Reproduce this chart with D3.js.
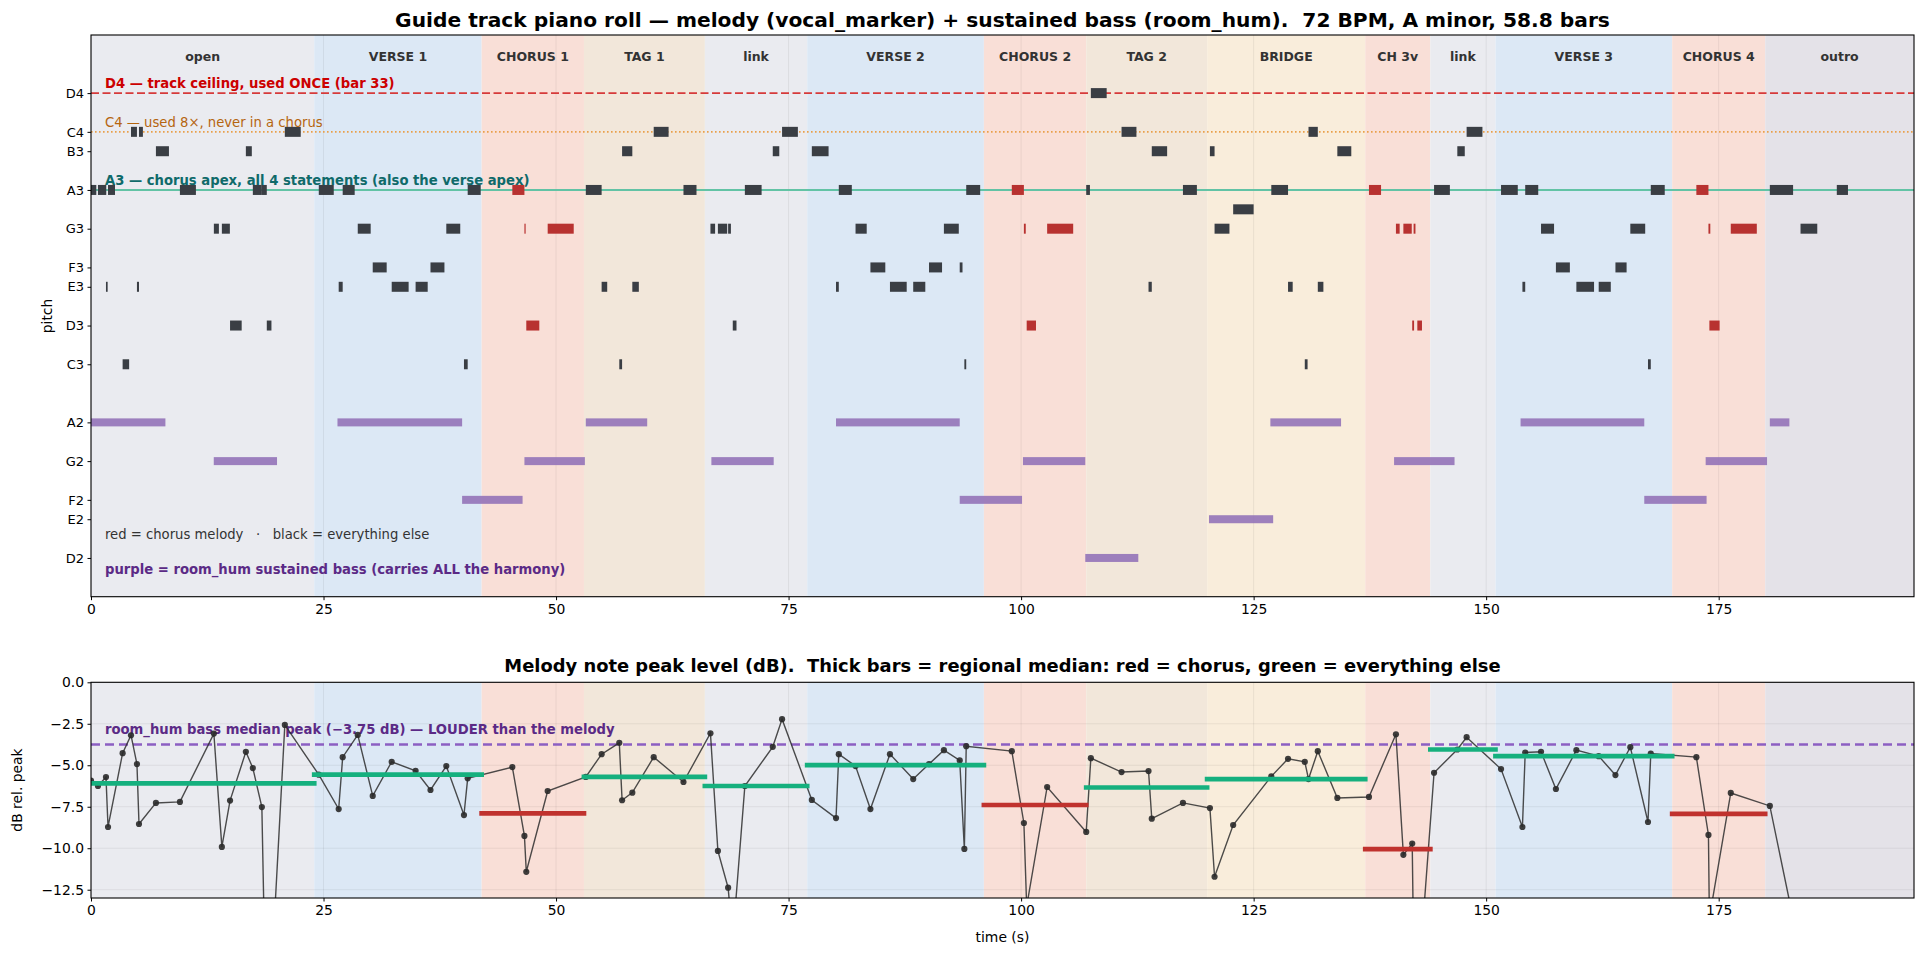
<!DOCTYPE html>
<html><head><meta charset="utf-8">
<script src="https://cdn.jsdelivr.net/npm/d3@7"></script>
<style>html,body{margin:0;padding:0;background:#fff;}svg{display:block;font-family:"DejaVu Sans",sans-serif;}svg text{white-space:pre;}</style>
</head><body>
<script>
// ---------------- data ----------------
const sectionNames  = ["open","VERSE 1","CHORUS 1","TAG 1","link","VERSE 2","CHORUS 2","TAG 2","BRIDGE","CH 3v","link","VERSE 3","CHORUS 4","outro"];
const sectionBounds = [0,24,42,53,66,77,96,107,120,137,144,151,170,180,196];
const sectionKinds  = ["open","verse","chorus","tag","link","verse","chorus","tag","bridge","chorus","link","verse","chorus","outro"];

const pitchTickNames = ["D4","C4","B3","A3","G3","F3","E3","D3","C3","A2","G2","F2","E2","D2"];
const pitchTickMidi  = [62,60,59,57,55,53,52,50,48,45,43,41,40,38];
const extraPitchNames = ["G#3"];
const extraPitchMidi  = [56];

const noteStart = [0.0,0.75,1.61,1.83,3.4,4.3,4.94,5.16,6.98,9.56,13.21,14.07,14.95,16.65,17.4,18.37,18.9,20.84,
  24.49,26.63,27.06,28.68,30.29,32.33,34.9,36.5,38.2,40.1,40.5,45.3,46.6,46.8,49.1,
  53.2,54.9,56.8,57.1,58.2,60.5,63.7,66.6,67.4,68.5,69.0,70.3,73.3,74.3,
  77.5,80.1,80.4,82.2,83.8,85.9,88.4,90.1,91.7,93.4,93.9,94.1,99.0,100.3,100.6,102.8,
  107.0,107.5,110.8,113.7,114.05,117.4,120.3,120.8,122.8,126.9,128.7,130.5,130.9,131.9,134.0,
  137.4,140.3,141.1,142.05,142.2,142.6,144.4,146.9,147.9,151.6,153.9,154.2,155.9,157.5,159.7,162.1,163.9,165.5,167.4,167.7,
  172.6,173.9,174.0,176.3,180.5,183.8,187.7];
const noteEnd = [0.57,1.64,1.79,2.58,4.1,4.94,5.16,5.58,8.38,11.28,13.75,14.93,16.2,17.29,18.37,18.9,19.4,22.55,
  26.1,27.06,28.35,30.07,31.79,34.15,36.2,38.0,39.7,40.5,41.9,46.6,46.72,48.2,51.9,
  54.9,55.5,57.1,58.2,58.9,62.1,65.1,67.1,68.4,68.8,69.4,72.1,74.0,76.0,
  79.3,80.4,81.8,83.4,85.4,87.7,89.7,91.5,93.3,93.7,94.1,95.6,100.3,100.5,101.6,105.6,
  107.4,109.2,112.4,114.05,115.7,118.9,120.8,122.4,125.0,128.7,129.2,130.8,131.9,132.5,135.5,
  138.7,140.7,142.0,142.25,142.4,143.1,146.1,147.7,149.6,153.4,154.2,155.6,157.3,159.0,161.6,163.4,165.1,167.1,167.7,169.2,
  173.9,174.1,175.1,179.1,183.0,185.6,188.9];
const notePitch = ["A3","A3","E3","A3","C3","C4","E3","C4","B3","A3","G3","G3","D3","B3","A3","A3","D3","C4",
  "A3","E3","A3","G3","F3","E3","E3","F3","G3","C3","A3","A3","G3","D3","G3",
  "A3","E3","C3","B3","E3","C4","A3","G3","G3","G3","D3","A3","B3","C4",
  "B3","E3","A3","G3","F3","E3","E3","F3","G3","F3","C3","A3","A3","G3","D3","G3",
  "A3","D4","C4","E3","B3","A3","B3","G3","G#3","A3","E3","C3","C4","E3","B3",
  "A3","G3","G3","D3","G3","D3","A3","B3","C4","A3","E3","A3","G3","F3","E3","E3","F3","G3","C3","A3",
  "A3","G3","D3","G3","A3","G3","A3"];
const notePeak = [-5.93,-6.25,-5.71,-8.72,-4.27,-3.19,-4.93,-8.54,-7.27,-7.21,-3.09,-9.92,-7.13,-4.19,-5.17,-7.52,-22.8,-2.57,
  -5.57,-7.64,-4.51,-3.17,-6.85,-4.79,-5.33,-6.49,-5.05,-8.0,-5.79,-5.11,-9.26,-11.42,-6.55,
  -5.7,-4.33,-3.65,-7.11,-6.65,-4.51,-6.01,-3.07,-10.16,-12.38,-15.5,-6.25,-3.89,-2.22,
  -7.09,-8.18,-4.33,-5.05,-7.64,-4.33,-5.83,-4.93,-4.09,-4.71,-10.04,-3.85,-4.15,-8.48,-13.5,-6.31,
  -9.02,-4.57,-5.41,-5.35,-8.22,-7.27,-7.58,-11.72,-8.6,-5.67,-4.61,-4.79,-5.83,-4.15,-6.97,
  -6.91,-3.13,-10.4,-9.72,-16.0,-19.0,-5.45,-4.05,-3.31,-5.23,-8.72,-4.23,-4.19,-6.43,-4.09,-4.45,-5.59,-3.91,-8.42,-4.29,
  -4.51,-9.2,-14.2,-6.67,-7.45,-16.4,-20.0];

const bassStart = [0,13.2,26.5,39.9,46.6,53.2,66.7,80.1,93.4,100.2,106.9,120.2,126.8,140.1,153.7,167.0,173.6,180.5];
const bassEnd   = [8.0,20.0,39.9,46.4,53.1,59.8,73.4,93.4,100.1,106.9,112.6,127.1,134.4,146.6,167.0,173.7,180.2,182.6];
const bassPitch = ["A2","G2","A2","F2","G2","A2","G2","A2","F2","G2","D2","E2","A2","G2","A2","F2","G2","A2"];

const bassMedianPeak = -3.75;
const timeTicks = [0,25,50,75,100,125,150,175];
const dbTicks = [0,-2.5,-5,-7.5,-10,-12.5];

// ---------------- styles ----------------
const kindColor = {open:"#eaebf0",verse:"#dce8f5",chorus:"#f9dfd7",tag:"#f2e7da",link:"#eaebf0",bridge:"#f9eddb",outro:"#e4e2e8"};
const W = 1924, H = 956;
const L = 91, R = 1914;
const ANN = "13.2px";
const svg = d3.select("body").append("svg").attr("width",W).attr("height",H);

const pitchMap = new Map();
pitchTickNames.forEach((n,i)=>pitchMap.set(n,pitchTickMidi[i]));
extraPitchNames.forEach((n,i)=>pitchMap.set(n,extraPitchMidi[i]));

const x = d3.scaleLinear().domain([0,196]).range([L,R]);
const yTop = d3.scaleLinear().domain([36,65]).range([596.7,35]);
const yBot = d3.scaleLinear().domain([-13,0]).range([898,682.3]);

const sections = sectionNames.map((n,i)=>({name:n,s:sectionBounds[i],e:sectionBounds[i+1],kind:sectionKinds[i]}));
const kindAt = t => { const s = sections.find(s=>t>=s.s && t<s.e); return s ? s.kind : "outro"; };
const notes = noteStart.map((s,i)=>({s, e:noteEnd[i], p:pitchMap.get(notePitch[i]), db:notePeak[i], chorus: kindAt(s)==="chorus"}));
const bass = bassStart.map((s,i)=>({s, e:bassEnd[i], p:pitchMap.get(bassPitch[i])}));

function panel(yScale, top, bottom, id){
  const g = svg.append("g");
  g.append("clipPath").attr("id",id).append("rect").attr("x",L).attr("y",top).attr("width",R-L).attr("height",bottom-top);
  const inner = g.append("g").attr("clip-path",`url(#${id})`);
  inner.selectAll("rect.band").data(sections).join("rect")
    .attr("x",d=>x(d.s)).attr("width",d=>x(d.e)-x(d.s))
    .attr("y",top).attr("height",bottom-top).attr("fill",d=>kindColor[d.kind]);
  inner.selectAll("line.vg").data(timeTicks).join("line")
    .attr("x1",d=>x(d)).attr("x2",d=>x(d)).attr("y1",top).attr("y2",bottom)
    .attr("stroke","#000").attr("stroke-opacity",0.07).attr("stroke-width",0.9);
  return {g, inner};
}

// ---------------- top panel ----------------
const T = panel(yTop, 35, 596.7, "clipTop");
T.inner.selectAll("text.sec").data(sections).join("text")
  .attr("x",d=>x((d.s+d.e)/2)).attr("y",61).attr("text-anchor","middle")
  .attr("font-size","12.5px").attr("font-weight","bold").attr("fill","#333").text(d=>d.name);
T.inner.append("line").attr("x1",L).attr("x2",R).attr("y1",yTop(62)).attr("y2",yTop(62))
  .attr("stroke","#d63a3a").attr("stroke-width",1.7).attr("stroke-dasharray","8,3.5");
T.inner.append("line").attr("x1",L).attr("x2",R).attr("y1",yTop(60)).attr("y2",yTop(60))
  .attr("stroke","#e9a04a").attr("stroke-width",1.6).attr("stroke-dasharray","1.6,2.4");
T.inner.append("line").attr("x1",L).attr("x2",R).attr("y1",yTop(57)).attr("y2",yTop(57))
  .attr("stroke","#62c3a5").attr("stroke-width",2);
const bassH = 8;
T.inner.selectAll("rect.bass").data(bass).join("rect")
  .attr("x",d=>x(d.s)).attr("width",d=>Math.max(1,x(d.e)-x(d.s)))
  .attr("y",d=>yTop(d.p)-bassH/2).attr("height",bassH)
  .attr("fill","#9473b8").attr("fill-opacity",0.9);
const noteH = 10;
T.inner.selectAll("rect.note").data(notes).join("rect")
  .attr("x",d=>x(d.s)).attr("width",d=>Math.max(1.2,x(d.e)-x(d.s)))
  .attr("y",d=>yTop(d.p)-noteH/2).attr("height",noteH)
  .attr("fill",d=>d.chorus?"#b83230":"#3a3e44");
const ann = T.inner.append("g").attr("font-size",ANN);
ann.append("text").attr("x",x(1.5)).attr("y",yTop(62)-5).attr("fill","#cc0000").attr("font-weight","bold")
  .text("D4 — track ceiling, used ONCE (bar 33)");
ann.append("text").attr("x",x(1.5)).attr("y",yTop(60)-4.5).attr("fill","#b5650f")
  .text("C4 — used 8×, never in a chorus");
ann.append("text").attr("x",x(1.5)).attr("y",yTop(57)-4.5).attr("fill","#0f6a6a").attr("font-weight","bold")
  .text("A3 — chorus apex, all 4 statements (also the verse apex)");
ann.append("text").attr("x",x(1.5)).attr("y",539).attr("fill","#333")
  .text("red = chorus melody   ·   black = everything else");
ann.append("text").attr("x",x(1.5)).attr("y",574).attr("fill","#5b2a86").attr("font-weight","bold")
  .text("purple = room_hum sustained bass (carries ALL the harmony)");
svg.append("g").attr("transform","translate(0,596.7)")
  .call(d3.axisBottom(x).tickValues(timeTicks).tickSize(3.5).tickPadding(3.5).tickFormat(d3.format("d")));
const axTopY = svg.append("g").attr("transform",`translate(${L},0)`)
  .call(d3.axisLeft(yTop).tickValues(pitchTickMidi).tickSize(3.5).tickPadding(3.5)
    .tickFormat(d=>pitchTickNames[pitchTickMidi.indexOf(d)]));
svg.append("rect").attr("x",L).attr("y",35).attr("width",R-L).attr("height",596.7-35)
  .attr("fill","none").attr("stroke","#000").attr("stroke-width",1.1);
svg.append("text").attr("transform","translate(52,316) rotate(-90)").attr("text-anchor","middle")
  .attr("font-size","13.9px").attr("fill","#000").text("pitch");
svg.append("text").attr("x",(L+R)/2).attr("y",27).attr("text-anchor","middle")
  .attr("font-size","20.2px").attr("font-weight","bold").attr("fill","#000")
  .text("Guide track piano roll — melody (vocal_marker) + sustained bass (room_hum).  72 BPM, A minor, 58.8 bars");

// ---------------- bottom panel ----------------
const B = panel(yBot, 682.3, 898, "clipBot");
B.inner.selectAll("line.hg").data(dbTicks).join("line")
  .attr("x1",L).attr("x2",R).attr("y1",d=>yBot(d)).attr("y2",d=>yBot(d))
  .attr("stroke","#000").attr("stroke-opacity",0.07).attr("stroke-width",0.9);
B.inner.append("line").attr("x1",L).attr("x2",R).attr("y1",yBot(bassMedianPeak)).attr("y2",yBot(bassMedianPeak))
  .attr("stroke","#8c5fc2").attr("stroke-width",2.3).attr("stroke-dasharray","9,5");
B.inner.append("text").attr("x",x(1.5)).attr("y",yBot(bassMedianPeak)-11).attr("font-size",ANN)
  .attr("font-weight","bold").attr("fill","#5b2a86")
  .text("room_hum bass median peak (−3.75 dB) — LOUDER than the melody");
const line = d3.line().x(d=>x(d.s)).y(d=>yBot(d.db));
B.inner.append("path").datum(notes).attr("d",line).attr("fill","none")
  .attr("stroke","#2e2e2e").attr("stroke-opacity",0.85).attr("stroke-width",1.4);
B.inner.selectAll("circle").data(notes).join("circle")
  .attr("cx",d=>x(d.s)).attr("cy",d=>yBot(d.db)).attr("r",3.1).attr("fill","#2a2a2a").attr("fill-opacity",0.9);
const meds = sections.map(sec=>{
  const v = notes.filter(n=>n.s>=sec.s && n.s<sec.e).map(n=>n.db);
  return {s:sec.s, e:sec.e, m: v.length? d3.median(v) : null, chorus: sec.kind==="chorus"};
}).filter(d=>d.m!==null);
B.inner.selectAll("line.med").data(meds).join("line")
  .attr("x1",d=>x(d.s)).attr("x2",d=>x(d.e)).attr("y1",d=>yBot(d.m)).attr("y2",d=>yBot(d.m))
  .attr("stroke",d=>d.chorus?"#c0322e":"#15b07e").attr("stroke-width",4.7).attr("stroke-linecap","square");
svg.append("g").attr("transform","translate(0,898)")
  .call(d3.axisBottom(x).tickValues(timeTicks).tickSize(3.5).tickPadding(3.5).tickFormat(d3.format("d")));
svg.append("g").attr("transform",`translate(${L},0)`)
  .call(d3.axisLeft(yBot).tickValues(dbTicks).tickSize(3.5).tickPadding(3.5)
    .tickFormat(d=>d3.format(".1f")(d).replace("-","−")));
svg.append("rect").attr("x",L).attr("y",682.3).attr("width",R-L).attr("height",898-682.3)
  .attr("fill","none").attr("stroke","#000").attr("stroke-width",1.1);
svg.append("text").attr("transform","translate(22,790) rotate(-90)").attr("text-anchor","middle")
  .attr("font-size","13.9px").attr("fill","#000").text("dB rel. peak");
svg.append("text").attr("x",(L+R)/2).attr("y",942).attr("text-anchor","middle")
  .attr("font-size","13.9px").attr("fill","#000").text("time (s)");
svg.append("text").attr("x",(L+R)/2).attr("y",672).attr("text-anchor","middle")
  .attr("font-size","17.9px").attr("font-weight","bold").attr("fill","#000")
  .text("Melody note peak level (dB).  Thick bars = regional median: red = chorus, green = everything else");

svg.selectAll(".domain").remove();
svg.selectAll(".tick text").attr("font-size","13.9px").attr("font-family","DejaVu Sans, sans-serif").attr("fill","#000");
svg.selectAll(".tick line").attr("stroke","#000").attr("stroke-width",1);
axTopY.selectAll(".tick text").attr("font-size","13px");
</script>
</body></html>
